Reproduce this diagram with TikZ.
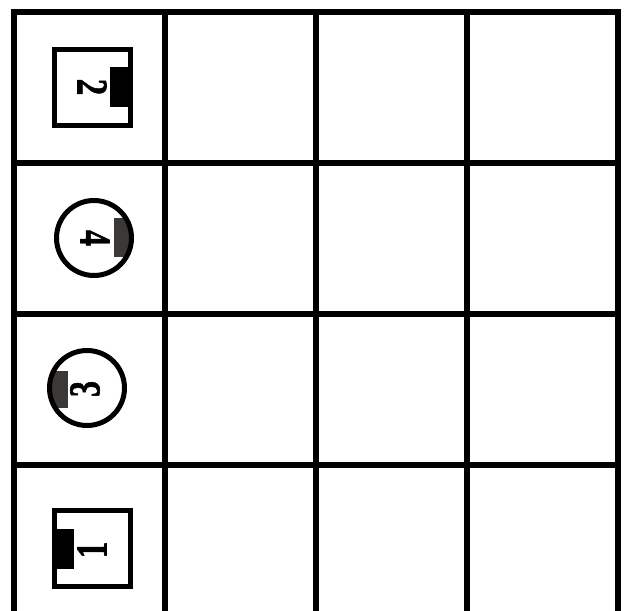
\documentclass[tikz,border=0pt]{standalone}
\usepackage{fontspec}
\setmainfont{Liberation Serif}
\newfontfamily\digitfont[UprightFont=* Bold, FakeBold=1.5]{Liberation Serif}
\definecolor{darkfill}{HTML}{3C3836}
\begin{document}
\begin{tikzpicture}[x=1pt,y=1pt,
  gridline/.style={line width=6pt, line join=miter, line cap=rect},
  boxshape/.style={draw, line width=5pt, minimum size=76pt, inner sep=0pt, rectangle},
  ringshape/.style={draw, line width=5pt, minimum size=75pt, inner sep=0pt, circle},
  digit/.style={inner sep=0pt, font=\digitfont\fontsize{44}{44}\selectfont}]
\useasboundingbox (0,0) rectangle (628,610);
% grid
\foreach \x in {14,165,316,467,618} \draw[gridline] (\x,598) -- (\x,-20);
\foreach \y in {598,447,296,145} \draw[gridline] (14,\y) -- (618,\y);
% square with 2
\fill[black] (110,503) rectangle (130.5,543);
\node[boxshape] (sq2) at (92.5,522.5) {};
\node[digit, rotate=-90] (t2) at (92,523) {\scalebox{0.75}[1]{2}};
% circle with 4
\begin{scope}
  \clip (94,372) circle (37.5);
  \fill[darkfill] (114,353) rectangle (140,392);
\end{scope}
\node[ringshape] (c4) at (94,372) {};
\node[digit, rotate=-90] (t4) at (95,372) {\scalebox{0.72}[1]{4}};
% circle with 3
\begin{scope}
  \clip (87,222) circle (37.5);
  \fill[darkfill] (40,202) rectangle (68,239);
\end{scope}
\node[ringshape] (c3) at (87,222) {};
\node[digit, rotate=90] (t3) at (85,221) {\scalebox{0.72}[1]{3}};
% square with 1
\fill[black] (54.5,41) rectangle (74,81);
\node[boxshape] (sq1) at (92.5,61.5) {};
\node[digit, rotate=90] (t1) at (92,60) {\scalebox{0.75}[1]{1}};
\end{tikzpicture}
\end{document}
